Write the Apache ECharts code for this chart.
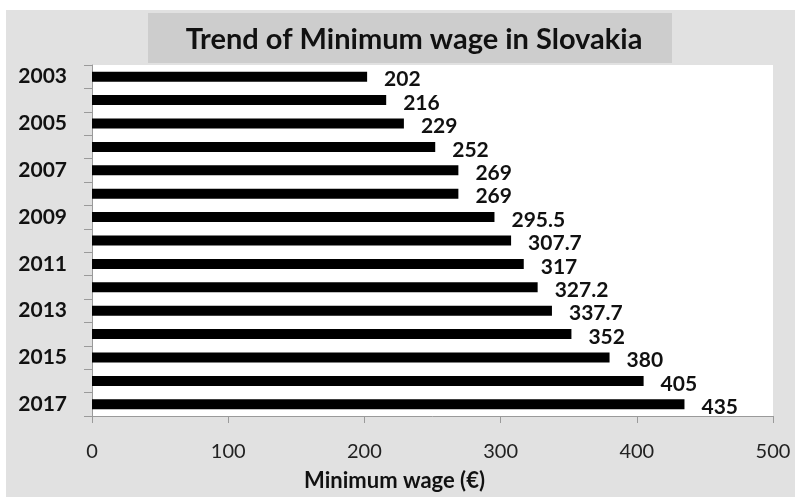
<!DOCTYPE html>
<html>
<head>
<meta charset="utf-8">
<style>
  html, body { margin: 0; padding: 0; background: #ffffff; }
  #chart { width: 795px; height: 497px; }
</style>
<script src="https://cdn.jsdelivr.net/npm/echarts@6/dist/echarts.min.js"></script>
</head>
<body>
<div id="chart"></div>
<script>
// Statutory monthly minimum wage in Slovakia, 2003-2017 (EUR)
const years = ['2003', '2004', '2005', '2006', '2007', '2008', '2009', '2010',
               '2011', '2012', '2013', '2014', '2015', '2016', '2017'];
const minWage = [202, 216, 229, 252, 269, 269, 295.5, 307.7,
                 317, 327.2, 337.7, 352, 380, 405, 435];
const wageTicks = [0, 100, 200, 300, 400, 500];

const FONT = 'Lato';
const chart = echarts.init(document.getElementById('chart'));

chart.setOption({
  backgroundColor: '#ffffff',
  animation: false,
  graphic: [
    // grey chart area
    { type: 'rect', z: -10, shape: { x: 6, y: 10, width: 789, height: 487 },
      style: { fill: '#e1e1e1' } },
    // title plate
    { type: 'rect', z: -9, shape: { x: 148, y: 13, width: 524, height: 50 },
      style: { fill: '#cdcdcd' } }
  ],
  title: {
    text: 'Trend of Minimum wage in Slovakia',
    left: 409,
    top: 20,
    textAlign: 'center',
    textStyle: { fontFamily: FONT, fontWeight: 'bold', fontSize: 29, color: '#111' }
  },
  grid: {
    left: 92, right: 22, top: 65, bottom: 76,
    show: true, backgroundColor: '#ffffff', borderWidth: 0
  },
  xAxis: {
    type: 'value',
    min: wageTicks[0],
    max: wageTicks[wageTicks.length - 1],
    interval: 100,
    splitLine: { show: false },
    axisLine: { show: true, lineStyle: { color: '#9a9a9a', width: 1 } },
    axisTick: { show: true, length: 7, lineStyle: { color: '#9a9a9a' } },
    axisLabel: { margin: 26, fontFamily: FONT, fontSize: 20, color: '#222' },
    name: 'Minimum wage (€)',
    nameLocation: 'middle',
    nameGap: 54,
    nameTextStyle: {
      fontFamily: FONT, fontWeight: 'bold', fontSize: 22, color: '#111',
      padding: [0, 76, 0, 0]
    }
  },
  yAxis: {
    type: 'category',
    data: years,
    inverse: true,
    axisLine: { show: true, lineStyle: { color: '#9a9a9a', width: 1 } },
    axisTick: { show: true, interval: 0, length: 8, lineStyle: { color: '#9a9a9a' } },
    axisLabel: {
      interval: 1, margin: 25,
      fontFamily: FONT, fontWeight: 'bold', fontSize: 21, color: '#111'
    }
  },
  series: [{
    type: 'bar',
    data: minWage,
    barWidth: 10,
    itemStyle: { color: '#000000' },
    label: {
      show: true,
      position: 'right',
      distance: 17,
      offset: [0, 3],
      fontFamily: FONT, fontWeight: 'bold', fontSize: 21, color: '#111'
    }
  }]
});
</script>
</body>
</html>
